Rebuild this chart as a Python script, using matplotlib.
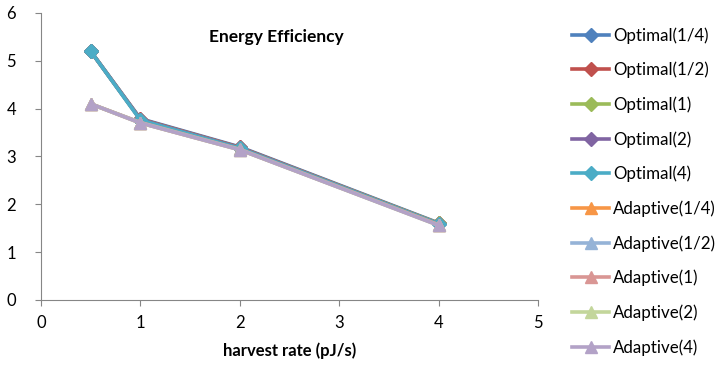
import matplotlib
matplotlib.use("Agg")
from matplotlib import pyplot as plt

harvest_rate = [0.5, 1, 2, 4]

optimal_names = ["Optimal(1/4)", "Optimal(1/2)", "Optimal(1)", "Optimal(2)", "Optimal(4)"]
optimal_values = [
    [5.2, 3.79, 3.2, 1.61],
    [5.2, 3.78, 3.19, 1.6],
    [5.2, 3.77, 3.18, 1.6],
    [5.2, 3.77, 3.18, 1.59],
    [5.2, 3.76, 3.17, 1.59],
]
adaptive_names = ["Adaptive(1/4)", "Adaptive(1/2)", "Adaptive(1)", "Adaptive(2)", "Adaptive(4)"]
adaptive_values = [
    [4.1, 3.71, 3.15, 1.57],
    [4.1, 3.71, 3.15, 1.57],
    [4.1, 3.7, 3.14, 1.57],
    [4.1, 3.7, 3.14, 1.56],
    [4.1, 3.7, 3.14, 1.56],
]

optimal_colors = ["#4F81BD", "#C0504D", "#9BBB59", "#8064A2", "#4BACC6"]
adaptive_colors = ["#F79646", "#95B3D7", "#D99694", "#C3D69B", "#B3A2C7"]

plt.rcParams["font.family"] = ["Lato", "DejaVu Sans"]

fig = plt.figure(figsize=(7.22, 3.71), dpi=100)
ax = fig.add_axes([0.0568, 0.1914, 0.6884, 0.7736])

for name, vals, c in zip(optimal_names, optimal_values, optimal_colors):
    ax.plot(harvest_rate, vals, color=c, lw=2.6, marker="D", markersize=7, label=name)
for name, vals, c in zip(adaptive_names, adaptive_values, adaptive_colors):
    ax.plot(harvest_rate, vals, color=c, lw=2.6, marker="^", markersize=9, label=name)

ax.set_xlim(0, 5)
ax.set_ylim(0, 6)
ax.set_xticks(range(0, 6))
ax.set_yticks(range(0, 7))
for s in ["top", "right"]:
    ax.spines[s].set_visible(False)
for s in ["left", "bottom"]:
    ax.spines[s].set_color("#868686")
ax.tick_params(colors="#868686", labelcolor="black", labelsize=12, length=4, direction="out")
ax.tick_params(axis="y", pad=14)
ax.tick_params(axis="x", pad=7)

ax.text(2.37, 5.5, "Energy Efficiency", fontsize=12.5, fontweight="bold", ha="center", va="center")
ax.set_xlabel("harvest rate (pJ/s)", fontsize=12, fontweight="bold", labelpad=8)

ax.legend(loc="upper left", bbox_to_anchor=(1.055, 0.975), frameon=False, fontsize=12.2,
          handlelength=2.2, labelspacing=1.07, handletextpad=0.2, borderaxespad=0)

fig.savefig("out.png", dpi=100)
